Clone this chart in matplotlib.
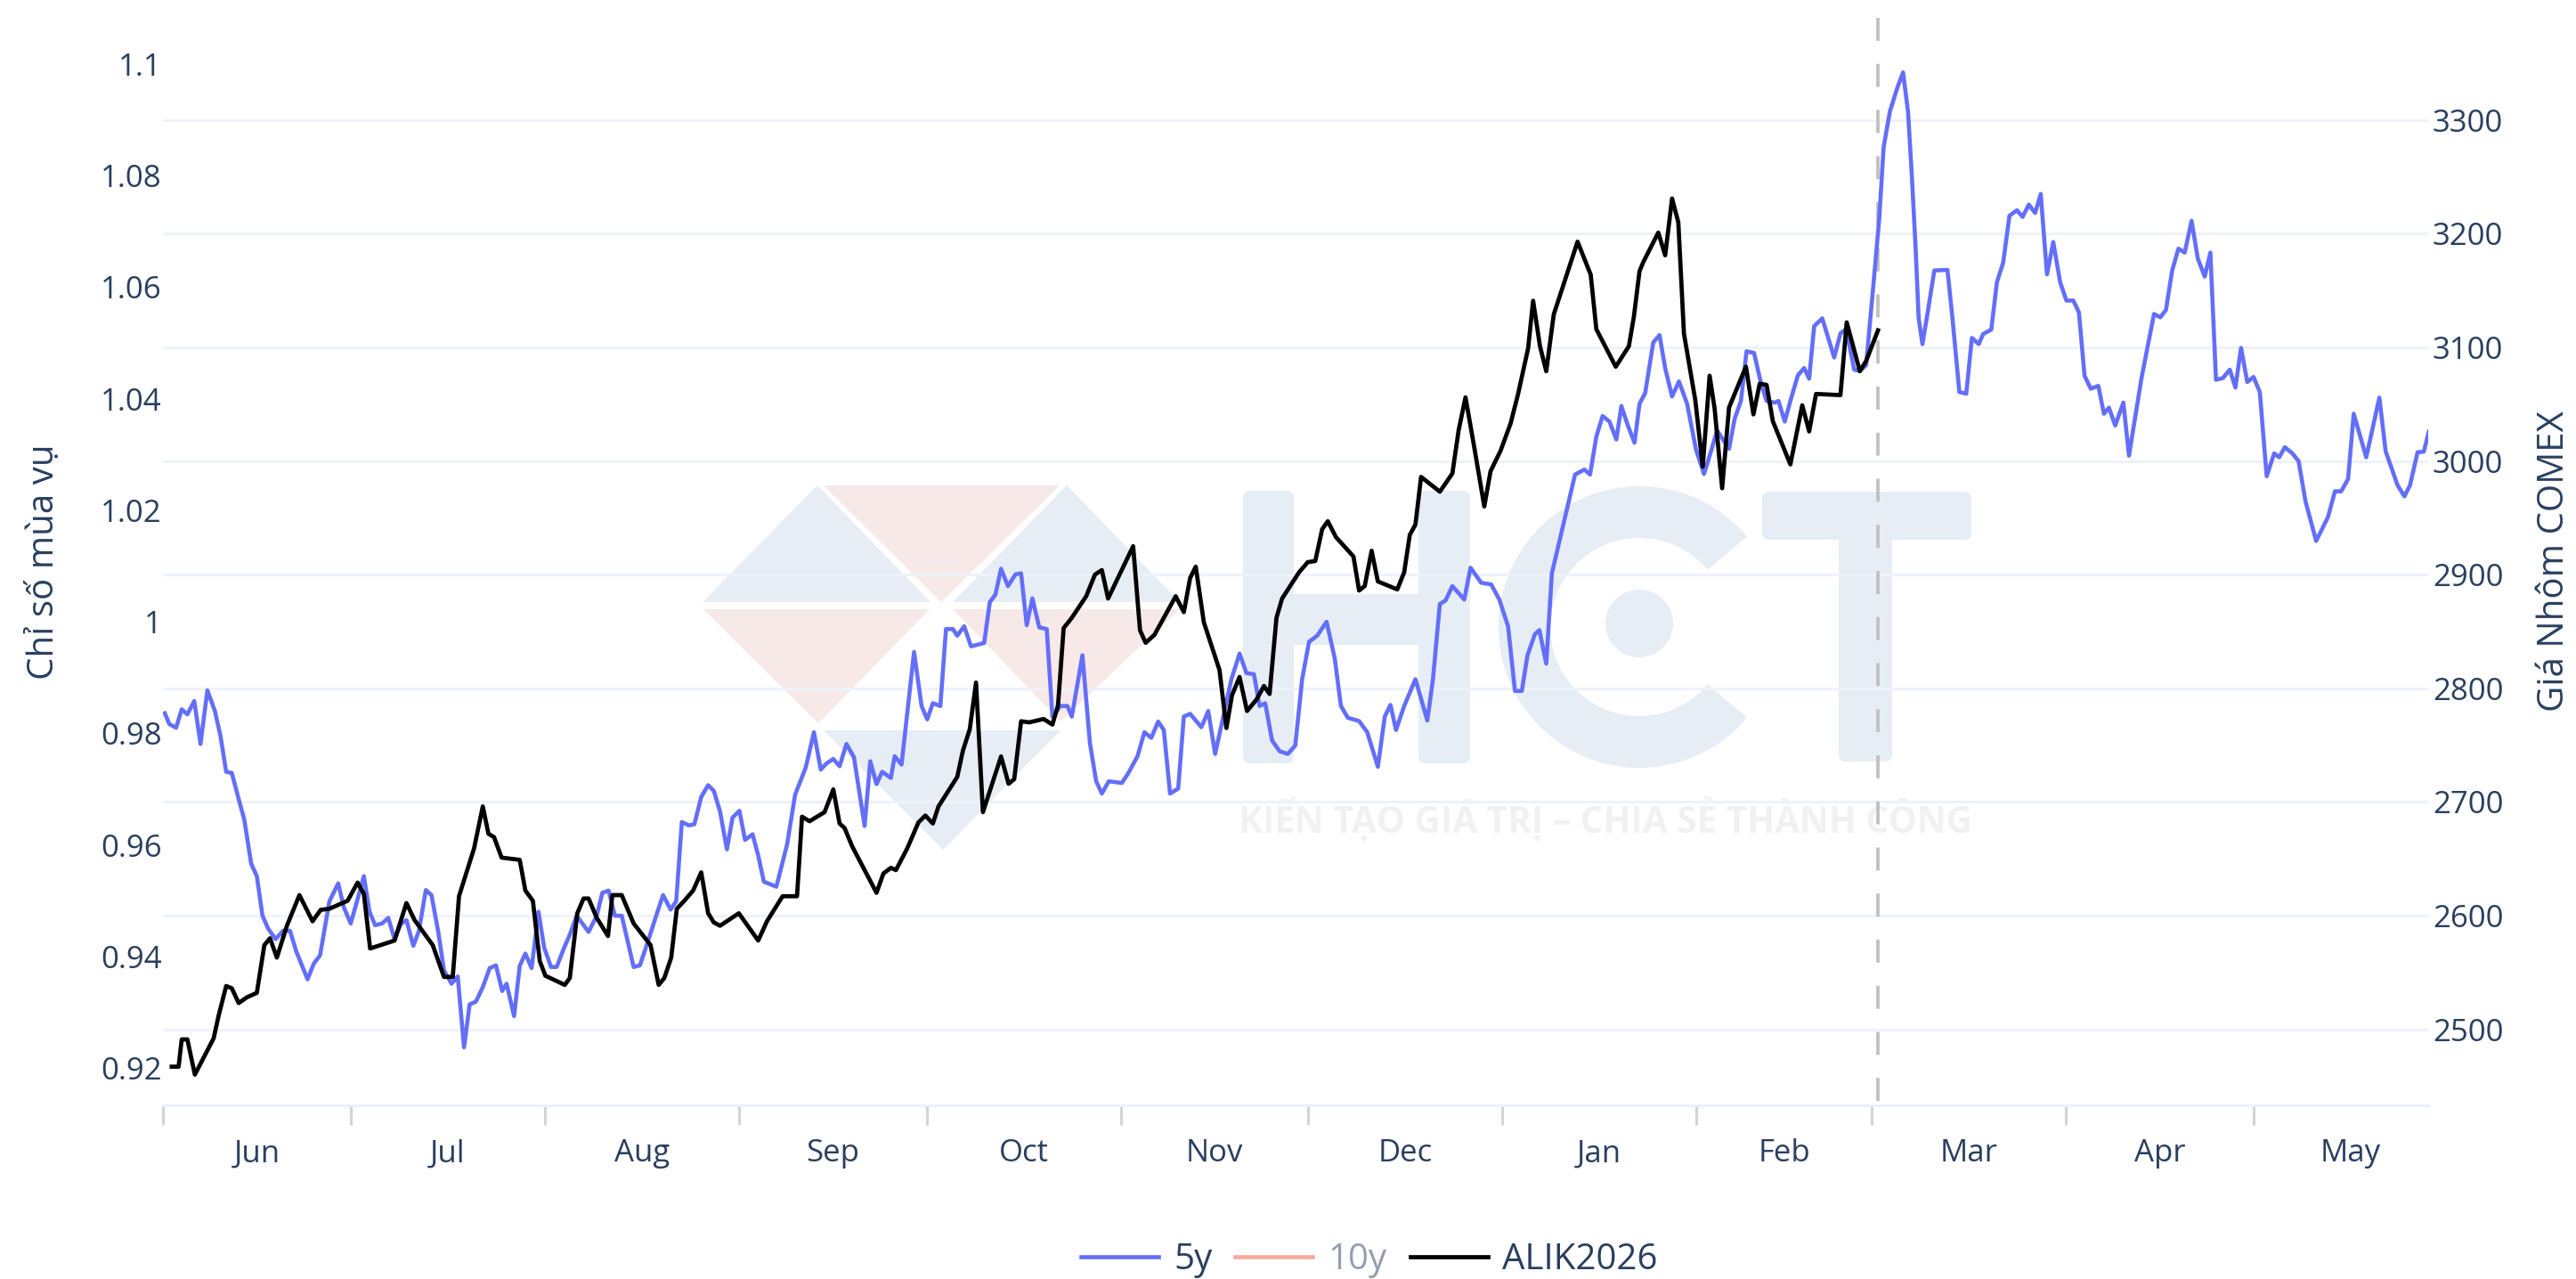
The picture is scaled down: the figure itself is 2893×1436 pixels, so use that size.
import matplotlib
matplotlib.use('Agg')
from matplotlib import pyplot as plt
from matplotlib.patches import Circle, FancyBboxPatch, Polygon, Wedge
from matplotlib.transforms import Affine2D

plt.rcParams['font.family'] = ['Open Sans', 'DejaVu Sans']

# days since 1 Jun
days_5y = [0.3, 1.0, 2.1, 3.0, 3.9, 5.0, 6.0, 7.1, 8.3, 9.2, 10.1, 11.0, 12.1, 13.0, 14.1, 15.0, 15.9, 16.8, 18.0, 19.2,
           20.3, 21.3, 23.1, 24.1, 25.1, 26.6, 28.0, 28.9, 30.0, 31.0, 32.1, 33.0, 33.9, 35.0, 36.0, 37.0, 38.0, 38.9, 40.0, 40.9,
           42.0, 42.9, 44.0, 44.9, 46.1, 47.1, 48.1, 49.0, 50.0, 51.1, 52.2, 53.2, 54.2, 54.9, 56.1, 57.0, 57.9, 58.9, 60.0, 60.9,
           62.0, 62.9, 64.0, 65.0, 66.1, 68.0, 69.3, 70.2, 71.2, 72.2, 73.3, 75.2, 76.2, 77.4, 78.8, 79.9, 81.1, 82.0, 82.9, 84.0,
           84.9, 86.0, 87.1, 88.0, 89.0, 90.1, 91.0, 92.1, 93.0, 94.2, 95.1, 96.0, 98.0, 99.7, 101.0, 102.7, 104.0, 105.1, 106.0, 107.1,
           108.1, 109.2, 110.4, 112.1, 113.0, 114.0, 114.9, 116.3, 116.9, 118.0, 120.0, 121.2, 122.1, 123.0, 124.2, 125.1, 126.2, 126.9, 128.0, 129.1,
           131.2, 132.1, 133.0, 133.9, 135.0, 136.2, 137.1, 138.0, 138.9, 140.0, 141.2, 142.1, 143.4, 144.5, 145.2, 146.9, 148.1, 149.1, 150.0, 151.1,
           153.2, 154.3, 155.7, 156.8, 157.9, 159.0, 159.9, 160.9, 162.2, 163.1, 164.1, 165.9, 167.0, 168.1, 169.3, 170.7, 172.0, 173.1, 174.3, 175.2,
           176.1, 177.2, 178.4, 179.7, 180.9, 182.0, 183.1, 184.4, 185.9, 187.2, 188.2, 189.3, 191.1, 192.4, 194.1, 195.2, 196.1, 197.0, 198.3, 200.1,
           202.0, 202.9, 204.0, 204.9, 206.0, 207.9, 208.9, 210.6, 212.2, 213.5, 214.9, 216.0, 217.1, 218.0, 219.2, 219.9, 221.0, 221.9, 224.2, 225.6,
           227.1, 228.0, 229.0, 230.0, 231.1, 232.2, 233.0, 234.0, 235.1, 235.9, 236.8, 238.1, 239.1, 240.0, 241.1, 242.2, 243.5, 244.9, 246.2, 247.3,
           248.3, 250.2, 251.1, 252.1, 253.0, 254.2, 255.3, 256.2, 257.5, 258.1, 259.1, 260.0, 261.2, 262.2, 263.0, 263.8, 265.1, 267.0, 268.0, 268.9,
           270.2, 271.1, 272.1, 273.4, 274.2, 274.9, 275.9, 277.1, 278.0, 278.8, 279.4, 280.0, 280.5, 281.1, 282.0, 283.0, 285.1, 285.9, 287.0, 288.1,
           289.0, 290.1, 290.8, 292.1, 293.0, 294.0, 295.0, 296.2, 297.1, 298.1, 299.1, 300.0, 301.0, 302.0, 303.1, 304.1, 305.2, 306.1, 307.0, 308.0,
           309.2, 310.1, 310.9, 311.9, 313.2, 314.1, 316.1, 318.1, 319.1, 320.0, 321.0, 322.0, 323.0, 324.1, 325.1, 326.2, 327.1, 328.0, 329.1, 330.2,
           331.1, 332.0, 333.0, 334.0, 335.0, 336.1, 337.3, 338.1, 339.0, 340.2, 341.2, 342.3, 344.0, 345.9, 347.0, 348.0, 349.1, 350.0, 352.0, 354.1,
           355.1, 357.0, 358.1, 359.0, 360.2, 361.2, 362.0]
vals_5y = [.9836, .9817, .9810, .9843, .9834, .9858, .9781, .9877, .9840, .9795, .9731, .9729, .9682, .9645, .9566, .9544, .9473, .9450, .9431, .9446,
           .9446, .9409, .9359, .9387, .9402, .9499, .9531, .9488, .9459, .9499, .9544, .9480, .9456, .9459, .9469, .9431, .9458, .9465, .9419, .9446,
           .9519, .9510, .9443, .9375, .9351, .9364, .9237, .9314, .9319, .9345, .9379, .9384, .9338, .9351, .9293, .9383, .9405, .9379, .9480, .9416,
           .9381, .9381, .9413, .9439, .9473, .9444, .9473, .9514, .9518, .9473, .9473, .9381, .9384, .9424, .9473, .9510, .9484, .9499, .9641, .9635,
           .9637, .9686, .9707, .9697, .9660, .9592, .9649, .9661, .9609, .9619, .9581, .9534, .9525, .9600, .9690, .9739, .9802, .9735, .9746, .9754,
           .9741, .9781, .9757, .9634, .9750, .9709, .9731, .9720, .9759, .9744, .9946, .9849, .9825, .9854, .9849, .9987, .9987, .9975, .9992, .9956,
           .9962, 1.0035, 1.0049, 1.0095, 1.0064, 1.0085, 1.0087, .9994, 1.0042, .9990, .9987, .9830, .9849, .9849, .9830, .9940, .9782, .9714, .9692, .9714,
           .9711, .9730, .9759, .9802, .9792, .9821, .9806, .9692, .9701, .9830, .9835, .9811, .9840, .9763, .9825, .9897, .9943, .9908, .9906, .9849,
           .9854, .9787, .9768, .9763, .9778, .9897, .9964, .9975, 1.0000, .9935, .9849, .9828, .9822, .9802, .9740, .9830, .9851, .9806, .9849, .9897,
           .9823, .9897, 1.0032, 1.0038, 1.0064, 1.0040, 1.0097, 1.0070, 1.0067, 1.0040, .9992, .9876, .9876, .9940, .9978, .9985, .9925, 1.0087, 1.0197, 1.0264,
           1.0273, 1.0264, 1.0332, 1.0369, 1.0359, 1.0327, 1.0387, 1.0353, 1.0321, 1.0391, 1.0410, 1.0501, 1.0514, 1.0455, 1.0404, 1.0431, 1.0391, 1.0310, 1.0265, 1.0305,
           1.0343, 1.0310, 1.0364, 1.0396, 1.0485, 1.0482, 1.0428, 1.0396, 1.0393, 1.0396, 1.0359, 1.0396, 1.0442, 1.0455, 1.0436, 1.0530, 1.0544, 1.0474, 1.0517, 1.0525,
           1.0452, 1.0450, 1.0460, 1.0621, 1.0723, 1.0851, 1.0915, 1.0958, 1.0985, 1.0915, 1.0801, 1.0673, 1.0544, 1.0498, 1.0559, 1.0630, 1.0631, 1.0544, 1.0412, 1.0409,
           1.0509, 1.0498, 1.0516, 1.0524, 1.0609, 1.0644, 1.0728, 1.0738, 1.0726, 1.0748, 1.0733, 1.0767, 1.0623, 1.0681, 1.0609, 1.0576, 1.0576, 1.0555, 1.0441, 1.0418,
           1.0423, 1.0373, 1.0384, 1.0352, 1.0393, 1.0298, 1.0437, 1.0552, 1.0546, 1.0559, 1.0630, 1.0669, 1.0662, 1.0719, 1.0651, 1.0619, 1.0662, 1.0434, 1.0437, 1.0452,
           1.0420, 1.0491, 1.0430, 1.0439, 1.0412, 1.0261, 1.0302, 1.0295, 1.0313, 1.0302, 1.0288, 1.0216, 1.0145, 1.0188, 1.0234, 1.0234, 1.0256, 1.0373, 1.0295, 1.0402,
           1.0306, 1.0245, 1.0225, 1.0245, 1.0304, 1.0305, 1.0341]

days_alik = [1.4, 2.5, 3.0, 3.9, 5.1, 6.5, 8.1, 8.9, 10.1, 11.0, 12.1, 13.4, 15.0, 16.2, 17.1, 18.2, 19.8, 21.8, 23.9, 25.2,
             26.6, 29.5, 31.1, 32.1, 33.1, 37.0, 38.9, 40.2, 43.1, 44.9, 46.3, 47.3, 49.7, 51.1, 52.0, 52.9, 54.1, 57.0, 57.9, 59.1,
             60.2, 61.1, 64.2, 65.0, 66.2, 67.2, 68.0, 69.3, 71.1, 71.8, 73.3, 75.2, 77.9, 79.2, 80.1, 81.2, 82.1, 83.3, 84.7, 86.0,
             87.1, 88.0, 89.0, 92.0, 95.1, 96.5, 99.0, 101.3, 102.1, 103.3, 105.7, 107.1, 108.1, 108.9, 110.1, 111.9, 114.0, 115.1, 116.3, 117.1,
             118.9, 120.7, 121.8, 123.0, 123.9, 126.9, 127.8, 128.9, 129.9, 131.0, 133.9, 135.1, 136.0, 137.1, 138.4, 140.7, 142.1, 143.0, 143.9, 145.2,
             147.5, 148.9, 150.0, 151.0, 155.0, 156.1, 157.0, 158.4, 161.8, 163.1, 164.1, 165.0, 166.3, 168.8, 169.9, 170.8, 172.0, 173.2, 174.7, 175.9,
             176.8, 177.9, 178.8, 181.5, 182.9, 184.1, 185.2, 186.1, 187.4, 190.2, 191.1, 192.0, 193.1, 194.1, 197.2, 198.3, 199.2, 200.1, 201.0, 204.0,
             206.0, 207.0, 208.1, 209.5, 211.1, 212.1, 213.7, 215.3, 216.5, 218.1, 218.9, 220.0, 221.0, 222.2, 226.0, 228.1, 229.0, 232.1, 234.2, 235.0,
             235.9, 236.5, 238.9, 240.0, 241.1, 242.1, 243.0, 244.8, 246.0, 247.1, 247.9, 249.1, 250.2, 252.9, 254.1, 255.1, 256.2, 257.2, 260.0, 261.9,
             263.0, 264.1, 268.0, 269.0, 271.1, 272.1, 274.0]
vals_alik = [2467, 2467, 2491, 2491, 2460, 2475, 2492, 2512, 2538, 2536, 2523, 2528, 2532, 2574, 2580, 2563, 2591, 2618, 2595, 2605,
             2606, 2613, 2629, 2619, 2571, 2578, 2611, 2596, 2574, 2546, 2546, 2617, 2659, 2696, 2672, 2669, 2651, 2649, 2622, 2613,
             2560, 2547, 2539, 2545, 2602, 2615, 2615, 2598, 2582, 2618, 2618, 2593, 2574, 2539, 2545, 2563, 2606, 2613, 2622, 2638,
             2602, 2594, 2591, 2602, 2578, 2595, 2617, 2617, 2687, 2683, 2691, 2711, 2681, 2677, 2661, 2642, 2620, 2637, 2642, 2640,
             2659, 2682, 2688, 2681, 2696, 2722, 2745, 2764, 2805, 2691, 2740, 2716, 2720, 2771, 2770, 2773, 2768, 2785, 2853, 2862,
             2881, 2900, 2904, 2879, 2925, 2851, 2840, 2847, 2881, 2867, 2897, 2907, 2858, 2816, 2765, 2794, 2810, 2780, 2790, 2802,
             2795, 2862, 2879, 2902, 2911, 2912, 2940, 2947, 2933, 2916, 2886, 2890, 2921, 2894, 2887, 2902, 2935, 2944, 2986, 2973,
             2989, 3027, 3056, 3012, 2960, 2991, 3009, 3033, 3059, 3099, 3141, 3101, 3079, 3129, 3193, 3164, 3116, 3083, 3101, 3127,
             3167, 3175, 3201, 3181, 3231, 3210, 3112, 3054, 2995, 3075, 3046, 2976, 3047, 3083, 3041, 3068, 3067, 3035, 2997, 3049,
             3026, 3059, 3058, 3122, 3079, 3088, 3115]

months = ['Jun', 'Jul', 'Aug', 'Sep', 'Oct', 'Nov', 'Dec', 'Jan', 'Feb', 'Mar', 'Apr', 'May']
month_starts = [0, 30, 61, 92, 122, 153, 183, 214, 245, 273, 304, 334, 365]
left_ticks = [0.92, 0.94, 0.96, 0.98, 1, 1.02, 1.04, 1.06, 1.08, 1.1]
left_labels = ['0.92', '0.94', '0.96', '0.98', '1', '1.02', '1.04', '1.06', '1.08', '1.1']
right_ticks = [2500, 2600, 2700, 2800, 2900, 3000, 3100, 3200, 3300]
today = 274

W, H = 2893, 1436
TXT = '#2a3f5f'
GRID = '#eef2f9'

fig = plt.figure(figsize=(W / 100, H / 100), dpi=100, facecolor='white')

# watermark, in picture pixels
px = Affine2D().scale(1 / W, -1 / H).translate(0, 1) + fig.transFigure
BLUE_WM = '#e6edf5'
PINK_WM = '#f7e9e7'
for pts, c in [([(789, 676), (1045, 676), (918, 545)], BLUE_WM),
               ([(925, 545), (1190, 545), (1057, 676)], PINK_WM),
               ([(1070, 676), (1325, 676), (1198, 545)], BLUE_WM),
               ([(790, 684), (1044, 684), (919, 812)], PINK_WM),
               ([(1070, 684), (1325, 684), (1191, 810)], PINK_WM),
               ([(925, 820), (1191, 820), (1059, 954)], BLUE_WM)]:
    fig.add_artist(Polygon(pts, closed=True, fc=c, ec='none', transform=px, zorder=-1))
for x, y, w, h in [(1396, 551, 57, 306), (1593, 551, 58, 306), (1396, 667, 255, 57),
                   (1979, 552, 235, 54), (2065, 552, 60, 303)]:
    fig.add_artist(FancyBboxPatch((x, y), w, h, boxstyle='round,pad=0,rounding_size=8',
                                  fc=BLUE_WM, ec='none', transform=px, zorder=-1))
fig.add_artist(Wedge((1841, 704), 158, 40, 320, width=58, fc=BLUE_WM, ec='none', transform=px, zorder=-1))
fig.add_artist(Circle((1841, 700), 38, fc=BLUE_WM, ec='none', transform=px, zorder=-1))
fig.text(1803 / W, 1 - 920 / H, 'KIẾN TẠO GIÁ TRỊ – CHIA SẺ THÀNH CÔNG', color='#f1f1f1', fontsize=29.2,
         fontweight='bold', ha='center', va='center', zorder=-1)

# right axis sits under the left one so the grid stays behind the lines
ax = fig.add_axes([183 / W, 1 - 1241 / H, 2544 / W, 1221 / H], zorder=2)
ax2 = ax.twinx()
ax2.set_zorder(1)
ax.patch.set_visible(False)
ax2.patch.set_visible(False)

ax.set_xlim(0, 361.9)
ax.set_ylim(0.9133, 1.1083)
ax2.set_ylim(2433, 3390)

ax.axvline(today, ymin=1, ymax=0, color='#c0c0c0', lw=2.7, dashes=(6.9, 6.9))
ax.plot(days_5y, vals_5y, color='#636efa', lw=3.3, solid_joinstyle='round', label='5y')
ax.plot([], [], color='#ef553b', lw=3.3, alpha=0.5, label='10y')
ax.plot(days_alik, vals_alik, color='black', lw=3.4, solid_joinstyle='round', label='ALIK2026',
        transform=ax2.transData)

ax2.set_yticks(right_ticks)
ax2.grid(True, axis='y', color=GRID, lw=2.2)
ax2.tick_params(axis='y', length=0, pad=3.5, labelsize=25, labelcolor=TXT)
ax.set_yticks(left_ticks)
ax.set_yticklabels(left_labels)
ax.tick_params(axis='y', length=0, pad=1, labelsize=25, labelcolor=TXT)

ax.set_xticks(month_starts[:-1])
ax.set_xticklabels([])
ax.tick_params(axis='x', which='major', length=16, width=2.2, color='#d4d4d4')
mids = [(a + b) / 2 for a, b in zip(month_starts[:-1], month_starts[1:])]
ax.set_xticks(mids, minor=True)
ax.set_xticklabels(months, minor=True)
ax.tick_params(axis='x', which='minor', length=0, pad=27, labelsize=25, labelcolor=TXT)

for a in (ax, ax2):
    for s in a.spines.values():
        s.set_visible(False)
ax.spines['bottom'].set_visible(True)
ax.spines['bottom'].set_color('#ebf0f8')
ax.spines['bottom'].set_linewidth(2.2)

ax.set_ylabel('Chỉ số mùa vụ', fontsize=29, color=TXT)
ax.yaxis.set_label_coords(-0.0444, 0.5)
ax2.set_ylabel('Giá Nhôm COMEX', fontsize=29, color=TXT, rotation=90)
ax2.yaxis.set_label_coords(1.0477, 0.5)

leg = ax.legend(handles=ax.get_lines()[1:], loc='center', bbox_to_anchor=(1538 / W, 1 - 1415 / H),
                bbox_transform=fig.transFigure, ncol=3, frameon=False, fontsize=29, borderpad=0,
                handlelength=2.16, handletextpad=0.42, columnspacing=0.65, labelcolor=TXT)
leg.get_texts()[1].set_alpha(0.5)

fig.savefig('out.png', dpi=100, facecolor='white')
